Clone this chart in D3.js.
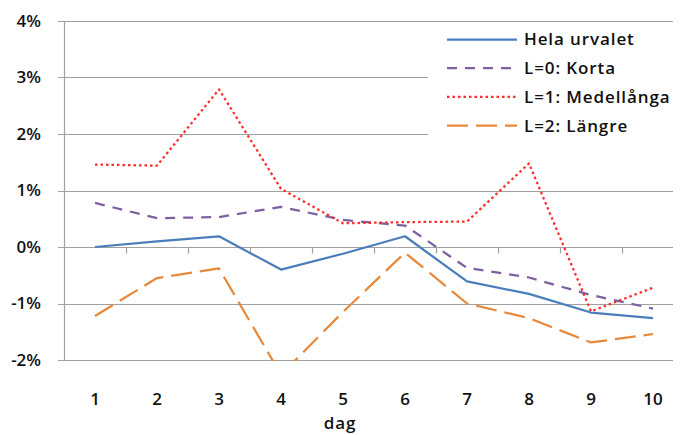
<!DOCTYPE html>
<html><head><meta charset="utf-8">
<script src="https://d3js.org/d3.v7.min.js"></script>
<style>
html,body{margin:0;padding:0;background:#fff;}
svg{display:block;}
text{font-family:"Open Sans", Lato, sans-serif;font-weight:600;fill:#111;}
</style></head>
<body>
<script>
const days = [1,2,3,4,5,6,7,8,9,10];
const yTicks = [-2,-1,0,1,2,3,4];
const seriesNames = ["Hela urvalet","L=0: Korta","L=1: Medellånga","L=2: Längre"];
const hela = [0.00,0.10,0.19,-0.40,-0.12,0.19,-0.61,-0.83,-1.16,-1.26];
const korta = [0.78,0.51,0.53,0.71,0.48,0.38,-0.37,-0.54,-0.85,-1.09];
const medel = [1.46,1.44,2.79,1.03,0.42,0.44,0.45,1.48,-1.14,-0.72];
const langre = [-1.22,-0.55,-0.38,-2.26,-1.15,-0.10,-1.00,-1.26,-1.69,-1.54];
const xTitle = "dag";

const W=680,H=435;
const svg=d3.select("body").append("svg").attr("width",W).attr("height",H);
const L=64, R=673, T=21, B=360;
const x=d3.scaleBand().domain(days).range([L,684]);
const y=d3.scaleLinear().domain([-2,4]).range([B,T]);
const fs="17px", ls="0.9px";

svg.append("g").selectAll("line").data(yTicks).join("line")
  .attr("x1",L-6).attr("x2",R).attr("y1",d=>Math.round(y(d))+0.5).attr("y2",d=>Math.round(y(d))+0.5)
  .attr("stroke","#a0a0a0").attr("stroke-width",1.2);
svg.append("line").attr("x1",L+0.5).attr("x2",L+0.5).attr("y1",T).attr("y2",B+0.5)
  .attr("stroke","#a0a0a0").attr("stroke-width",1.2);
const y0=Math.round(y(0))+0.5;
svg.append("g").selectAll("line").data(days.slice(1)).join("line")
  .attr("x1",d=>Math.round(x(d))+0.5).attr("x2",d=>Math.round(x(d))+0.5)
  .attr("y1",y0).attr("y2",y0+6).attr("stroke","#a0a0a0").attr("stroke-width",1.2);

svg.append("g").selectAll("text").data(yTicks).join("text")
  .attr("x",41).attr("y",d=>y(d)).attr("dy","0.35em").attr("text-anchor","end")
  .style("font-size",fs).text(d=>d+"%");
svg.append("g").selectAll("text").data(days).join("text")
  .attr("x",d=>x(d)+x.bandwidth()/2).attr("y",405).attr("text-anchor","middle")
  .style("font-size",fs).text(d=>d);
svg.append("text").attr("x",340).attr("y",429).attr("text-anchor","middle")
  .style("font-size",fs).style("letter-spacing",ls).text(xTitle);

svg.append("rect").attr("x",428).attr("y",24).attr("width",R-428).attr("height",140).attr("fill","#fff");

svg.append("clipPath").attr("id","plot").append("rect")
  .attr("x",L).attr("y",T).attr("width",R-L).attr("height",B-T+1);

const styles=[
  {data:hela,color:"#4a7ebb",dash:null},
  {data:korta,color:"#7d60a0",dash:"10,8"},
  {data:medel,color:"#ff2a2a",dash:"2.5,3"},
  {data:langre,color:"#e8883a",dash:"21,8"}
];
const line=d3.line().x((d,i)=>x(days[i])+x.bandwidth()/2).y(d=>y(d));
const g=svg.append("g").attr("clip-path","url(#plot)");
styles.forEach(s=>{
  g.append("path").attr("d",line(s.data)).attr("fill","none")
   .attr("stroke",s.color).attr("stroke-width",2.25)
   .attr("stroke-dasharray",s.dash).attr("stroke-linejoin","round");
});

const lg=svg.append("g");
seriesNames.forEach((n,i)=>{
  const yy=39.5+i*28.7;
  lg.append("line").attr("x1",447).attr("x2",517).attr("y1",yy).attr("y2",yy)
    .attr("stroke",styles[i].color).attr("stroke-width",2.25).attr("stroke-dasharray",styles[i].dash);
  lg.append("text").attr("x",524).attr("y",yy).attr("dy","0.35em").style("font-size",fs)
    .style("letter-spacing",ls).text(n);
});
</script>
</body></html>
